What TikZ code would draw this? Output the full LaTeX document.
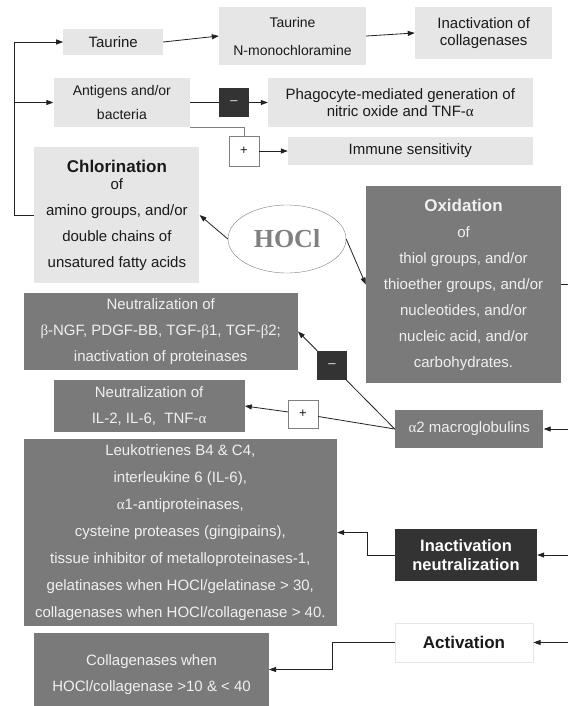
\documentclass[tikz,border=0pt]{standalone}
\usepackage{fontspec}
\setmainfont{Liberation Sans}
\newfontfamily\grfont{Liberation Serif}
\newfontfamily\hoclfont{Liberation Serif}
\usetikzlibrary{arrows.meta,shapes.geometric}
\newcommand{\gal}{{\grfont α}}
\newcommand{\gbe}{{\grfont β}}
\definecolor{lg}{HTML}{E6E6E6}
\definecolor{mg}{HTML}{7A7A7A}
\definecolor{dg}{HTML}{333333}
\definecolor{txt}{HTML}{1A1A1A}
\definecolor{ln}{HTML}{222222}
\definecolor{lt}{HTML}{F0F0F0}
\tikzset{
  base/.style={inner sep=0pt, align=center, font=\fontsize{15}{26}\selectfont},
  lbox/.style={base, fill=lg, text=txt},
  mbox/.style={base, fill=mg, text=lt},
  dbox/.style={base, fill=dg, text=white},
  signbox/.style={base, draw=gray, fill=white, text=txt, minimum width=30pt, minimum height=30pt, font=\fontsize{13}{15}\selectfont},
  dsign/.style={base, fill=dg, text=lt, minimum width=30pt, minimum height=29pt, font=\fontsize{13}{15}\selectfont},
  conn/.style={draw=ln, line width=0.8pt},
  arr/.style={conn, -{Triangle[length=7pt,width=5pt]}},
}
\begin{document}
\begin{tikzpicture}[x=1pt,y=-1pt]
\useasboundingbox (0,0) rectangle (568,706);
% top rows
\node[lbox, minimum width=99.6pt, minimum height=26pt] (taurine) at (113.2,42) {Taurine};
\node[lbox, minimum width=147pt, minimum height=58pt, font=\fontsize{14}{28}\selectfont] (tnm) at (292.5,36) {Taurine\\N-monochloramine};
\node[lbox, minimum width=137.5pt, minimum height=52pt, font=\fontsize{15}{17}\selectfont] (inact) at (483.7,33) {Inactivation of\\collagenases};
\node[lbox, minimum width=136.6pt, minimum height=49pt, font=\fontsize{14}{24}\selectfont] (antigens) at (121.9,102.5) {Antigens and/or\\bacteria};
\node[dsign] (minus1) at (234,102.5) {--};
\node[lbox, minimum width=264.6pt, minimum height=49pt, font=\fontsize{15}{17}\selectfont] (phago) at (400.3,102.5) {Phagocyte-mediated generation of\\nitric oxide and TNF-\gal};
\node[signbox] (plus1) at (244,151) {+};
\node[lbox, minimum width=244.6pt, minimum height=28pt] (immune) at (410.3,151) {Immune sensitivity};
\node[lbox, minimum width=165pt, minimum height=136pt] (chlor) at (116.9,215) {{\bfseries\fontsize{17}{20}\selectfont Chlorination}\\[-9pt]of\\amino groups, and/or\\double chains of\\unsatured fatty acids};
% HOCl
\node[ellipse, draw=gray, fill=white, minimum width=118pt, minimum height=68pt, inner sep=0pt, text=gray, font=\hoclfont\bfseries\fontsize{26}{30}\selectfont] (hocl) at (287,239) {HOCl};
% oxidation
\node[mbox, minimum width=195pt, minimum height=197pt] (oxid) at (463.5,284.5) {{\bfseries\fontsize{17}{20}\selectfont Oxidation}\\of\\thiol groups, and/or\\thioether groups, and/or\\nucleotides, and/or\\nucleic acid, and/or\\carbohydrates.};
% neutralization boxes
\node[mbox, minimum width=274.2pt, minimum height=77pt] (neut1) at (160.7,331.5) {Neutralization of\\\gbe-NGF, PDGF-BB, TGF-\gbe1, TGF-\gbe2;\\inactivation of proteinases};
\node[mbox, minimum width=191pt, minimum height=52pt] (neut2) at (149.1,406) {Neutralization of\\IL-2, IL-6,\ \ TNF-\gal};
\node[mbox, minimum width=148.5pt, minimum height=38pt] (alpha) at (469.2,429) {\gal2 macroglobulins};
\node[mbox, minimum width=313.4pt, minimum height=187pt, font=\fontsize{15}{27}\selectfont] (leuko) at (180.3,532.5) {Leukotrienes B4 \& C4,\\interleukine 6 (IL-6),\\\gal1-antiproteinases,\\cysteine proteases (gingipains),\\tissue inhibitor of metalloproteinases-1,\\gelatinases when HOCl/gelatinase > 30,\\collagenases when HOCl/collagenase > 40.};
\node[dbox, minimum width=142pt, minimum height=52pt, font=\bfseries\fontsize{16.5}{18.5}\selectfont] (inneut) at (466,555) {Inactivation\\neutralization};
\node[base, draw=lg, line width=1pt, fill=white, text=txt, minimum width=138pt, minimum height=39pt, font=\bfseries\fontsize{17}{20}\selectfont] (activ) at (464,642.5) {Activation};
\node[mbox, minimum width=234.4pt, minimum height=73pt] (collbox) at (151.6,669.5) {};
\node[base, text=lt] (coll) at (151.6,675) {Collagenases when\\HOCl/collagenase >10 \& < 40};
% signs on alpha lines
\node[dsign, minimum width=29.7pt] (minus2) at (331.9,365.5) {--};
\node[signbox, minimum height=28pt] (plus2) at (303,414) {+};
% coordinates
\coordinate (bus) at (14.5,215);
\coordinate (rOx) at (568,284.5);
\coordinate (rAl) at (568,429);
\coordinate (rIn) at (568,555);
\coordinate (rAc) at (568,642.5);
% connectors
\draw[arr] (chlor.west) -- (bus) |- (taurine.west);
\draw[arr] (bus |- antigens.west) -- (antigens.west);
\draw[arr] (taurine.east) -- (tnm.west);
\draw[arr] (tnm.east) -- (inact.west);
\draw[conn] (antigens.east) -- (minus1.west);
\draw[arr] (minus1.east) -- (phago.west);
\draw[conn, draw=gray] (antigens.south east) -| (plus1.north);
\draw[arr] (plus1.east) -- (immune.west);
\draw[arr] (hocl.west) -- (chlor.east);
\draw[arr] (hocl.east) -- (oxid.west);
\draw[conn] (oxid.east) -- (rOx);
\draw[conn] (alpha.west) -- (minus2);
\draw[arr] (minus2) -- (neut1.east);
\draw[conn] (alpha.west) -- (plus2);
\draw[arr] (plus2) -- (neut2.east);
\draw[arr] (rAl) -- (alpha.east);
\draw[arr] (rIn) -- (inneut.east);
\draw[arr] (rAc) -- (activ.east);
\draw[arr] (inneut.west) -- ++(-27.3,0) |- (leuko.east);
\draw[arr] (activ.west) -- ++(-62.4,0) |- (collbox.east);
\end{tikzpicture}
\end{document}
